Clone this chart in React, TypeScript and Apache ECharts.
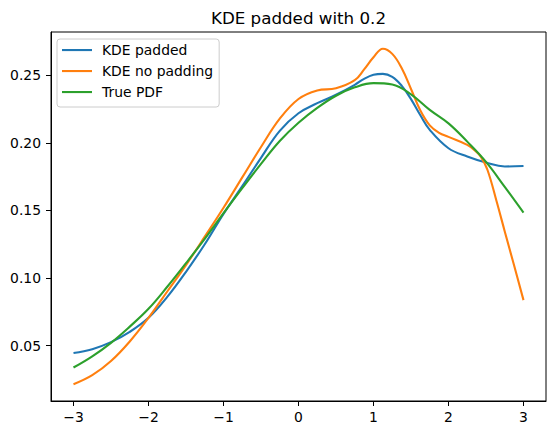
import React, { useEffect, useRef } from "react";
import * as echarts from "echarts";

// Sample positions and density values for each curve
const xPadded = [-3, -2.75, -2.5, -2.25, -2, -1.75, -1.5, -1.25, -1, -0.75, -0.5, -0.25, 0, 0.25, 0.5, 0.75, 0.875, 1, 1.125, 1.25, 1.375, 1.5, 1.625, 1.75, 2, 2.25, 2.5, 2.75, 3];
const yPadded = [0.0445, 0.0473, 0.0525, 0.0601, 0.0705, 0.086, 0.1046, 0.125, 0.1475, 0.168, 0.189, 0.209, 0.222, 0.2295, 0.2357, 0.2431, 0.2475, 0.2505, 0.2512, 0.249, 0.2425, 0.2325, 0.2205, 0.2097, 0.1961, 0.19, 0.1855, 0.1826, 0.183];

const xNoPad = [-3, -2.75, -2.5, -2.25, -2, -1.75, -1.5, -1.25, -1, -0.75, -0.5, -0.25, 0, 0.25, 0.5, 0.75, 0.875, 1, 1.125, 1.25, 1.375, 1.5, 1.625, 1.75, 1.875, 2, 2.25, 2.37, 2.43, 2.52, 2.64, 2.75, 2.875, 3];
const yNoPad = [0.0213, 0.028, 0.0385, 0.053, 0.0705, 0.09, 0.1096, 0.1306, 0.152, 0.1745, 0.197, 0.218, 0.2326, 0.2389, 0.2405, 0.2465, 0.2545, 0.2635, 0.2698, 0.266, 0.2555, 0.24, 0.224, 0.213, 0.2075, 0.2045, 0.1986, 0.1936, 0.1899, 0.18, 0.157, 0.1345, 0.1092, 0.0836];

const xTrue = [-3, -2.75, -2.5, -2.25, -2, -1.75, -1.5, -1.25, -1, -0.75, -0.5, -0.25, 0, 0.25, 0.5, 0.75, 1, 1.25, 1.5, 1.75, 2, 2.25, 2.5, 2.75, 3];
const yTrue = [0.0337, 0.042, 0.052, 0.064, 0.0772, 0.0935, 0.111, 0.129, 0.148, 0.1665, 0.1845, 0.2015, 0.215, 0.226, 0.235, 0.2412, 0.2443, 0.2433, 0.236, 0.2245, 0.2145, 0.201, 0.186, 0.1675, 0.1484];

const xTicks = [-3, -2, -1, 0, 1, 2, 3];
const yTicks = [0.05, 0.1, 0.15, 0.2, 0.25];

const seriesNames = ["KDE padded", "KDE no padding", "True PDF"];
const titleText = "KDE padded with 0.2";

const FONT = "DejaVu Sans";
const COLORS = ["#1f77b4", "#ff7f0e", "#2ca02c"];

// Legend handle: a short horizontal stroke centred in a 30x14 box
const LINE_ICON = "path://M0,0 L0,0 M0,6 L30,6 L30,8.1 L0,8.1 Z M0,14 L0,14";

const pairs = (xs: number[], ys: number[]) => xs.map((x, i) => [x, ys[i]]);

export default function App() {
  const ref = useRef<HTMLDivElement>(null);

  useEffect(() => {
    if (!ref.current) return;
    const chart = echarts.init(ref.current, null, { renderer: "svg" });
    const curves = [pairs(xPadded, yPadded), pairs(xNoPad, yNoPad), pairs(xTrue, yTrue)];

    chart.setOption({
      animation: false,
      backgroundColor: "#fff",
      title: {
        text: titleText,
        left: 298.5,
        textAlign: "center",
        top: 9,
        padding: 0,
        textStyle: { fontFamily: FONT, fontSize: 16.7, fontWeight: "normal", color: "#000" },
      },
      legend: {
        orient: "vertical",
        left: 57,
        top: 39,
        itemWidth: 30,
        itemHeight: 14,
        itemGap: 7,
        icon: LINE_ICON,
        padding: [4, 6, 8, 5],
        backgroundColor: "rgba(255,255,255,0.8)",
        borderColor: "#cccccc",
        borderWidth: 1,
        borderRadius: 3,
        textStyle: { fontFamily: FONT, fontSize: 13.9, color: "#000", padding: [0, 0, 0, 5] },
        data: seriesNames,
      },
      grid: {
        left: 51,
        right: 10,
        top: 32,
        bottom: 34,
        show: true,
        borderColor: "#000",
        borderWidth: 1,
        backgroundColor: "transparent",
      },
      xAxis: {
        type: "value",
        min: -3.3,
        max: 3.3,
        splitLine: { show: false },
        axisLine: { show: true, onZero: false, lineStyle: { color: "#000", width: 1 } },
        axisTick: { show: true, length: 5, customValues: xTicks, lineStyle: { color: "#000", width: 1 } },
        axisLabel: {
          customValues: xTicks,
          margin: 9,
          fontFamily: FONT,
          fontSize: 13.9,
          color: "#000",
          formatter: (v: number) => String(v).replace("-", "\u2212"),
        },
      },
      yAxis: {
        type: "value",
        min: 0.0089,
        max: 0.2822,
        splitLine: { show: false },
        axisLine: { show: true, onZero: false, lineStyle: { color: "#000", width: 1 } },
        axisTick: { show: true, length: 5, customValues: yTicks, lineStyle: { color: "#000", width: 1 } },
        axisLabel: {
          customValues: yTicks,
          margin: 10,
          fontFamily: FONT,
          fontSize: 13.9,
          color: "#000",
          formatter: (v: number) => v.toFixed(2),
        },
      },
      series: seriesNames.map((name, i) => ({
        name,
        type: "line",
        data: curves[i],
        smooth: 0.4,
        symbol: "none",
        showSymbol: false,
        color: COLORS[i],
        lineStyle: { color: COLORS[i], width: 2.1 },
        emphasis: { disabled: true },
        z: 2 + i,
      })),
    });

    return () => chart.dispose();
  }, []);

  return (
    <div
      ref={ref}
      style={{ position: "absolute", left: 0, top: 0, width: 556, height: 435 }}
    />
  );
}
